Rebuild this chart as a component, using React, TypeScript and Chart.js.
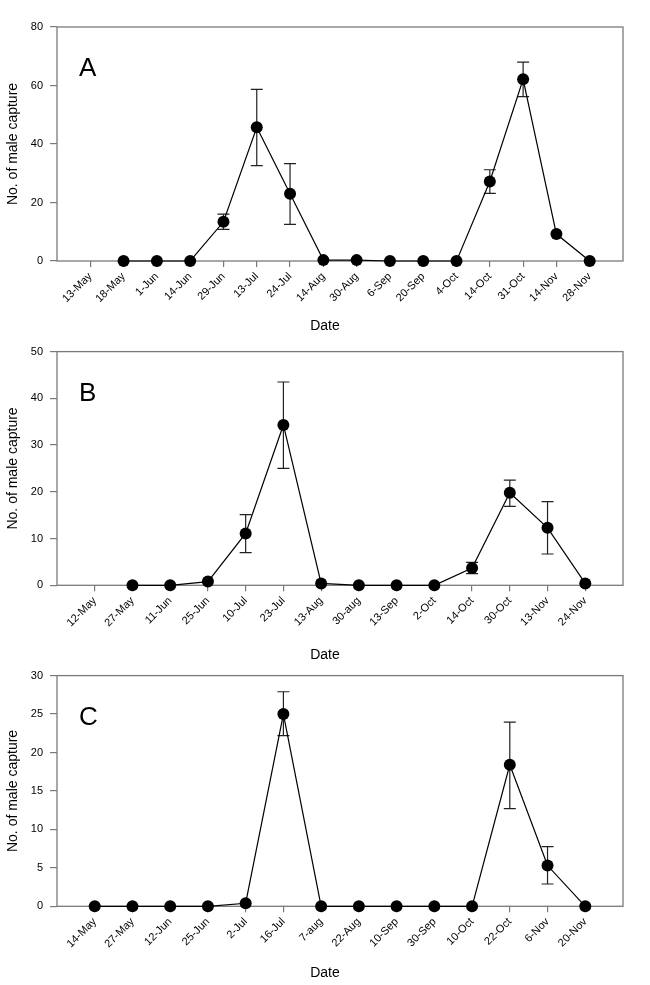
import React, { useEffect, useRef } from "react";
import { Chart, registerables } from "chart.js";

Chart.register(...registerables);

const FONT = "'Liberation Sans', Arial, sans-serif";

// Panel A
const catsA = ["13-May", "18-May", "1-Jun", "14-Jun", "29-Jun", "13-Jul", "24-Jul", "14-Aug", "30-Aug", "6-Sep", "20-Sep", "4-Oct", "14-Oct", "31-Oct", "14-Nov", "28-Nov"];
const valsA = [null, 0, 0, 0, 13.4, 45.7, 23, 0.3, 0.3, 0, 0, 0, 27.2, 62.1, 9.2, 0];
const hiA = [null, null, null, null, 16, 58.7, 33.3, null, null, null, null, null, 31.2, 68, null, null];
const loA = [null, null, null, null, 10.8, 32.6, 12.5, null, null, null, null, null, 23.1, 56.2, null, null];
const yTicksA = [0, 20, 40, 60, 80];

// Panel B
const catsB = ["12-May", "27-May", "11-Jun", "25-Jun", "10-Jul", "23-Jul", "13-Aug", "30-aug", "13-Sep", "2-Oct", "14-Oct", "30-Oct", "13-Nov", "24-Nov"];
const valsB = [null, 0, 0, 0.8, 11.1, 34.3, 0.4, 0, 0, 0, 3.7, 19.8, 12.3, 0.4];
const hiB = [null, null, null, null, 15.1, 43.5, null, null, null, null, 4.9, 22.5, 17.9, null];
const loB = [null, null, null, null, 7.0, 25.0, null, null, null, null, 2.5, 16.9, 6.7, null];
const yTicksB = [0, 10, 20, 30, 40, 50];

// Panel C
const catsC = ["14-May", "27-May", "12-Jun", "25-Jun", "2-Jul", "16-Jul", "7-aug", "22-Aug", "10-Sep", "30-Sep", "10-Oct", "22-Oct", "6-Nov", "20-Nov"];
const valsC = [0, 0, 0, 0, 0.4, 25, 0, 0, 0, 0, 0, 18.4, 5.3, 0];
const hiC = [null, null, null, null, null, 27.9, null, null, null, null, null, 23.95, 7.75, null];
const loC = [null, null, null, null, null, 22.2, null, null, null, null, null, 12.7, 2.9, null];
const yTicksC = [0, 5, 10, 15, 20, 25, 30];

type Panel = {
  letter: string;
  cats: string[];
  vals: (number | null)[];
  hi: (number | null)[];
  lo: (number | null)[];
  yTicks: number[];
  top: number;
  height: number;
  chartTop: number;
  chartBottom: number;
  dateY: number;
};

const panels: Panel[] = [
  { letter: "A", cats: catsA, vals: valsA, hi: hiA, lo: loA, yTicks: yTicksA, top: 0, height: 338, chartTop: 27, chartBottom: 261, dateY: 326 },
  { letter: "B", cats: catsB, vals: valsB, hi: hiB, lo: loB, yTicks: yTicksB, top: 338, height: 324, chartTop: 12.3, chartBottom: 247.3, dateY: 317 },
  { letter: "C", cats: catsC, vals: valsC, hi: hiC, lo: loC, yTicks: yTicksC, top: 662, height: 323, chartTop: 9.7, chartBottom: 244.3, dateY: 311 },
];

const AXIS_COLOR = "#7a7a7a";
const X_AXIS_H = 50;
const Y_AXIS_W = 57;

function PanelChart({ p }: { p: Panel }) {
  const ref = useRef<HTMLCanvasElement | null>(null);
  useEffect(() => {
    if (!ref.current) return;
    const n = p.cats.length;
    const step = p.yTicks[1] - p.yTicks[0];
    const framePlugin = {
      id: "frame",
      beforeDatasetsDraw(chart: any) {
        const { ctx, chartArea } = chart;
        ctx.save();
        ctx.strokeStyle = AXIS_COLOR;
        ctx.lineWidth = 1.3;
        ctx.strokeRect(chartArea.left, chartArea.top, chartArea.right - chartArea.left, chartArea.bottom - chartArea.top);
        // error bars
        const xs = chart.scales.x;
        const ys = chart.scales.y;
        ctx.strokeStyle = "#222";
        ctx.lineWidth = 1.2;
        for (let i = 0; i < n; i++) {
          const h = p.hi[i];
          const l = p.lo[i];
          if (h == null || l == null) continue;
          const x = xs.getPixelForValue(i);
          const yh = ys.getPixelForValue(h);
          const yl = ys.getPixelForValue(l);
          ctx.beginPath();
          ctx.moveTo(x, yh);
          ctx.lineTo(x, yl);
          ctx.moveTo(x - 6, yh);
          ctx.lineTo(x + 6, yh);
          ctx.moveTo(x - 6, yl);
          ctx.lineTo(x + 6, yl);
          ctx.stroke();
        }
        ctx.restore();
      },
      afterDraw(chart: any) {
        const { ctx, chartArea } = chart;
        ctx.save();
        ctx.fillStyle = "#000";
        ctx.font = `26px ${FONT}`;
        ctx.textAlign = "left";
        ctx.textBaseline = "alphabetic";
        ctx.fillText(p.letter, chartArea.left + 22, chartArea.top + 49);
        ctx.font = `14px ${FONT}`;
        ctx.textAlign = "center";
        ctx.textBaseline = "middle";
        ctx.fillText("Date", 325, p.dateY);
        ctx.restore();
      },
    };
    const chart = new Chart(ref.current, {
      type: "line",
      data: {
        datasets: [
          {
            data: p.vals.map((v, i) => ({ x: i, y: v })) as any,
            borderColor: "#000",
            borderWidth: 1.2,
            backgroundColor: "#000",
            pointBackgroundColor: "#000",
            pointBorderColor: "#000",
            pointRadius: 6,
            pointBorderWidth: 0,
            tension: 0,
            spanGaps: false,
            clip: false as any,
          },
        ],
      },
      options: {
        animation: false,
        responsive: false,
        maintainAspectRatio: false,
        events: [],
        layout: {
          padding: { left: 0, right: 27, top: p.chartTop, bottom: p.height - p.chartBottom - X_AXIS_H },
        },
        plugins: { legend: { display: false }, tooltip: { enabled: false }, title: { display: false } },
        scales: {
          x: {
            type: "linear",
            min: -1,
            max: n,
            afterBuildTicks: (scale: any) => {
              scale.ticks = p.cats.map((_, i) => ({ value: i }));
            },
            afterFit: (scale: any) => {
              scale.height = X_AXIS_H;
            },
            grid: { display: true, drawOnChartArea: false, drawTicks: true, tickLength: 6, tickColor: AXIS_COLOR, lineWidth: 1.2 },
            border: { display: false },
            ticks: {
              autoSkip: false,
              minRotation: 45,
              maxRotation: 45,
              padding: 3,
              color: "#000",
              font: { family: FONT, size: 11 },
              callback: (v: any) => p.cats[Math.round(Number(v))] ?? "",
            },
          },
          y: {
            type: "linear",
            min: p.yTicks[0],
            max: p.yTicks[p.yTicks.length - 1],
            afterBuildTicks: (scale: any) => {
              scale.ticks = p.yTicks.map((v) => ({ value: v }));
            },
            afterFit: (scale: any) => {
              scale.width = Y_AXIS_W;
            },
            grid: { display: true, drawOnChartArea: false, drawTicks: true, tickLength: 7, tickColor: AXIS_COLOR, lineWidth: 1.2 },
            border: { display: false },
            ticks: {
              stepSize: step,
              padding: 7,
              color: "#000",
              font: { family: FONT, size: 11 },
            },
            title: {
              display: true,
              text: "No. of male capture",
              color: "#000",
              font: { family: FONT, size: 14 },
              padding: { top: 4.6, bottom: 0 },
            },
          },
        },
      },
      plugins: [framePlugin],
    });
    return () => chart.destroy();
  }, [p]);
  return (
    <canvas
      ref={ref}
      width={650}
      height={p.height}
      style={{ position: "absolute", left: 0, top: p.top, width: 650, height: p.height, display: "block" }}
    />
  );
}

export default function App() {
  return (
    <div style={{ position: "absolute", left: 0, top: 0, width: 650, height: 985, background: "#fff" }}>
      {panels.map((p) => (
        <PanelChart key={p.letter} p={p} />
      ))}
    </div>
  );
}
